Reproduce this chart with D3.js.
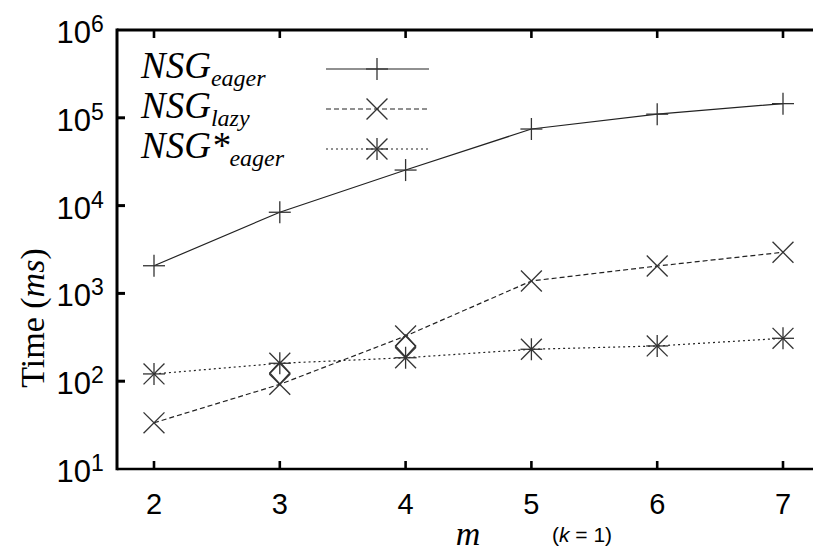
<!DOCTYPE html>
<html><head><meta charset="utf-8">
<script src="https://cdn.jsdelivr.net/npm/d3@7"></script>
<style>
html,body{margin:0;padding:0;background:#fff;}
svg{display:block;}
</style>
</head><body>
<svg id="chart" width="813" height="553"></svg>
<script>
// ---- data ----
const mValues = [2, 3, 4, 5, 6, 7];
const nsgEager = [2065, 8400, 25400, 74500, 110000, 145000];
const nsgLazy = [33.6, 92, 327, 1385, 2050, 2940];
const nsgStarEager = [121, 160, 185, 231, 252, 308];
// stray diamond marks visible in the original figure
const diamondM = [3, 4];
const diamondValues = [124, 252];
const yTickExponents = [1, 2, 3, 4, 5, 6];
const xTickLabels = ["2", "3", "4", "5", "6", "7"];

(function () {
// ---- layout ----
const svg = d3.select("#chart");
const pL = 117, pT = 30, pB = 469, pR = 830;
const x = d3.scaleLinear().domain([2, 7]).range([154, 783]);
const y = d3.scaleLog().domain([10, 1e6]).range([pB, pT]);

const ink = "#000";
const markInk = "#333";

// frame
svg.append("line").attr("x1", pL).attr("x2", pR).attr("y1", pT).attr("y2", pT)
  .attr("stroke", ink).attr("stroke-width", 3);
svg.append("line").attr("x1", pL).attr("x2", pR).attr("y1", pB).attr("y2", pB)
  .attr("stroke", ink).attr("stroke-width", 2.6);
svg.append("line").attr("x1", pL).attr("x2", pL).attr("y1", pT - 1.5).attr("y2", pB + 1.3)
  .attr("stroke", ink).attr("stroke-width", 3);

// x ticks (inward, bottom and top)
const xTicks = svg.append("g");
mValues.forEach((m, i) => {
  xTicks.append("line").attr("x1", x(m)).attr("x2", x(m)).attr("y1", pB).attr("y2", pB - 8)
    .attr("stroke", ink).attr("stroke-width", 2.6);
  xTicks.append("line").attr("x1", x(m)).attr("x2", x(m)).attr("y1", pT).attr("y2", pT + 8)
    .attr("stroke", ink).attr("stroke-width", 2.6);
  xTicks.append("text").attr("x", x(m)).attr("y", 514).attr("text-anchor", "middle")
    .attr("font-family", "Liberation Sans, Arial, sans-serif").attr("font-size", 29)
    .attr("fill", ink).text(xTickLabels[i]);
});

// y ticks
const yTicks = svg.append("g");
yTickExponents.forEach(e => {
  const v = Math.pow(10, e);
  const yy = y(v);
  if (e > 1 && e < 6) {
    yTicks.append("line").attr("x1", pL).attr("x2", pL + 8).attr("y1", yy).attr("y2", yy)
      .attr("stroke", ink).attr("stroke-width", 3);
  }
  yTicks.append("text").attr("x", 91).attr("y", yy + 13).attr("text-anchor", "end")
    .attr("font-family", "Liberation Sans, Arial, sans-serif").attr("font-size", 31)
    .attr("fill", ink).text("10");
  yTicks.append("text").attr("x", 91).attr("y", yy + 2).attr("text-anchor", "start")
    .attr("font-family", "Liberation Sans, Arial, sans-serif").attr("font-size", 23)
    .attr("fill", ink).text(String(e));
});

// axis titles
const yt = svg.append("text")
  .attr("transform", "translate(44,318) rotate(-90)")
  .attr("text-anchor", "middle")
  .attr("font-family", "Liberation Serif, Times New Roman, serif").attr("font-size", 34)
  .attr("fill", ink);
yt.append("tspan").text("Time (");
yt.append("tspan").attr("font-style", "italic").text("ms");
yt.append("tspan").text(")");

svg.append("text").attr("x", 468).attr("y", 545).attr("text-anchor", "middle")
  .attr("font-family", "Liberation Serif, Times New Roman, serif").attr("font-style", "italic")
  .attr("font-size", 34).attr("fill", ink).text("m");

const kt = svg.append("text").attr("x", 552).attr("y", 542)
  .attr("font-family", "Liberation Sans, Arial, sans-serif").attr("font-size", 21).attr("fill", ink);
kt.append("tspan").text("(");
kt.append("tspan").attr("font-style", "italic").text("k");
kt.append("tspan").text(" = 1)");

// marker drawing
function drawMarker(g, cx, cy, type) {
  const r = 11;
  const add = (x1, y1, x2, y2) => g.append("line").attr("x1", x1).attr("y1", y1).attr("x2", x2).attr("y2", y2)
    .attr("stroke", markInk).attr("stroke-width", 1.3);
  if (type === "plus" || type === "star") {
    add(cx - r, cy, cx + r, cy);
    add(cx, cy - r, cx, cy + r);
  }
  if (type === "cross" || type === "star") {
    const d = r * 0.95;
    add(cx - d, cy - d, cx + d, cy + d);
    add(cx - d, cy + d, cx + d, cy - d);
  }
  if (type === "diamond") {
    g.append("path").attr("d", `M${cx},${cy - 11}L${cx + 10},${cy}L${cx},${cy + 11}L${cx - 10},${cy}Z`)
      .attr("fill", "none").attr("stroke", markInk).attr("stroke-width", 1.3);
  }
}

const series = [
  {name: "eager", vals: nsgEager, dash: null, marker: "plus"},
  {name: "lazy", vals: nsgLazy, dash: "5,3", marker: "cross"},
  {name: "star", vals: nsgStarEager, dash: "2,3", marker: "star"}
];

const line = d3.line().x((d, i) => x(mValues[i])).y(d => y(d));
const plot = svg.append("g");
series.forEach(s => {
  plot.append("path").attr("d", line(s.vals)).attr("fill", "none")
    .attr("stroke", "#222").attr("stroke-width", 1.2)
    .attr("stroke-dasharray", s.dash);
  s.vals.forEach((v, i) => drawMarker(plot, x(mValues[i]), y(v), s.marker));
});
diamondM.forEach((m, i) => drawMarker(plot, x(m), y(diamondValues[i]), "diamond"));

// legend
const legRows = [
  {y: 69, base: 78, sub: "eager", star: false, s: series[0]},
  {y: 109, base: 118, sub: "lazy", star: false, s: series[1]},
  {y: 149, base: 158, sub: "eager", star: true, s: series[2]}
];
const leg = svg.append("g");
legRows.forEach(r => {
  const t = leg.append("text").attr("x", 141).attr("y", r.base)
    .attr("font-family", "Liberation Serif, Times New Roman, serif").attr("font-style", "italic")
    .attr("font-size", 37).attr("fill", ink);
  t.append("tspan").text("NSG" + (r.star ? "*" : ""));
  t.append("tspan").attr("dy", 8).attr("font-size", 24).text(r.sub);
  leg.append("line").attr("x1", 326).attr("x2", 429).attr("y1", r.y).attr("y2", r.y)
    .attr("stroke", "#222").attr("stroke-width", 1.2).attr("stroke-dasharray", r.s.dash);
  drawMarker(leg, 377, r.y, r.s.marker);
});
})();
</script>
</body></html>
